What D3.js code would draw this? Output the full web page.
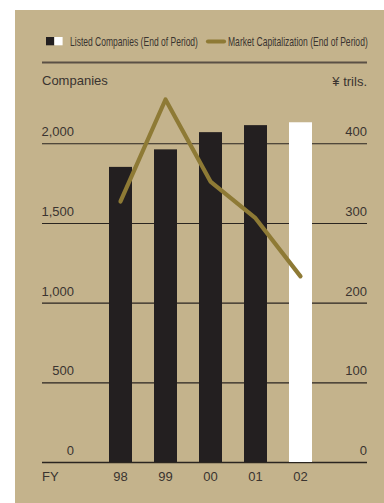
<!DOCTYPE html>
<html>
<head>
<meta charset="utf-8">
<script src="https://cdn.jsdelivr.net/npm/d3@7"></script>
<style>
  html, body { margin: 0; padding: 0; background: #ffffff; }
  svg { display: block; }
  text { font-family: "Liberation Sans", Arial, Helvetica, sans-serif; fill: #3a3430; }
</style>
</head>
<body>
<script>
// Fiscal years on the category axis
const years = ["98", "99", "00", "01", "02"];
// Listed companies at end of period (left axis)
const companies = [1852, 1962, 2070, 2114, 2132];
// Market capitalization at end of period, trillions of yen (right axis)
const marketCap = [327, 455, 352, 306, 233];
// Axis ticks
const leftTicks = [0, 500, 1000, 1500, 2000];
const rightTicks = [0, 100, 200, 300, 400];
// Legend entries
const legendLabels = ["Listed Companies (End of Period)", "Market Capitalization (End of Period)"];

const W = 384, H = 503;
const colors = {
  panel: "#c4b38c",
  bar: "#231f20",
  lastBar: "#ffffff",
  line: "#8e7a35",
  grid: "#2a2520",
  rule: "#5a5045"
};

const svg = d3.select("body").append("svg")
  .attr("width", W).attr("height", H);

// Background panel
svg.append("rect")
  .attr("x", 15).attr("y", 10)
  .attr("width", W - 15).attr("height", H - 10)
  .attr("fill", colors.panel);

const plotLeft = 42, plotRight = 367;
const baseY = 462, topY = 143.3;

const x = d3.scaleBand()
  .domain(years)
  .range([86.5, 334.5])
  .paddingInner(22 / 45)
  .paddingOuter(0.5);

const yLeft = d3.scaleLinear().domain([0, 2000]).range([baseY, topY]);
const yRight = d3.scaleLinear().domain([0, 400]).range([baseY, topY]);

// Condensed legend text: squeeze horizontally to the given width
function condensedText(g, label, tx, ty, width) {
  const t = g.append("text")
    .attr("font-size", 12)
    .text(label);
  const natural = t.node().getComputedTextLength();
  t.attr("transform", `translate(${tx},${ty}) scale(${width / natural},1)`);
  return t;
}

// Legend
const legend = svg.append("g");
legend.append("rect").attr("x", 46).attr("y", 37).attr("width", 8.3).attr("height", 8.3).attr("fill", colors.bar);
legend.append("rect").attr("x", 54.3).attr("y", 37).attr("width", 8.3).attr("height", 8.3).attr("fill", colors.lastBar);
condensedText(legend, legendLabels[0], 70, 46, 128);
legend.append("line")
  .attr("x1", 208).attr("x2", 224).attr("y1", 41.5).attr("y2", 41.5)
  .attr("stroke", colors.line).attr("stroke-width", 4.2).attr("stroke-linecap", "round");
condensedText(legend, legendLabels[1], 228, 46, 140);

// Rule under legend
svg.append("line")
  .attr("x1", plotLeft).attr("x2", plotRight)
  .attr("y1", 62.5).attr("y2", 62.5)
  .attr("stroke", colors.rule).attr("stroke-width", 2);

// Axis titles
svg.append("text").attr("x", plotLeft).attr("y", 85).attr("font-size", 13).text("Companies");
svg.append("text").attr("x", plotRight).attr("y", 85.5).attr("font-size", 13)
  .attr("text-anchor", "end").text("¥ trils.");

// Horizontal grid lines from the left scale
const leftAxis = d3.axisLeft(yLeft)
  .tickValues(leftTicks)
  .tickSize(-(plotRight - plotLeft))
  .tickFormat("");
const gridG = svg.append("g")
  .attr("transform", `translate(${plotLeft},0)`)
  .call(leftAxis);
gridG.select(".domain").remove();
gridG.selectAll(".tick line")
  .attr("stroke", colors.grid)
  .attr("stroke-width", d => d === 0 ? 1.6 : 1.1);

// Left tick labels
svg.append("g").selectAll("text")
  .data(leftTicks)
  .join("text")
  .attr("x", 74)
  .attr("y", d => yLeft(d) - 7)
  .attr("text-anchor", "end")
  .attr("font-size", 13)
  .text(d => d3.format(",")(d));

// Right tick labels
svg.append("g").selectAll("text")
  .data(rightTicks)
  .join("text")
  .attr("x", plotRight)
  .attr("y", d => yRight(d) - 7)
  .attr("text-anchor", "end")
  .attr("font-size", 13)
  .text(d => d);

// Bars
svg.append("g").selectAll("rect")
  .data(years)
  .join("rect")
  .attr("x", d => x(d))
  .attr("width", x.bandwidth())
  .attr("y", (d, i) => yLeft(companies[i]))
  .attr("height", (d, i) => baseY - yLeft(companies[i]))
  .attr("fill", (d, i) => i === years.length - 1 ? colors.lastBar : colors.bar);

// Market capitalization line
const line = d3.line()
  .x((d, i) => x(years[i]) + x.bandwidth() / 2)
  .y(d => yRight(d));
svg.append("path")
  .datum(marketCap)
  .attr("d", line)
  .attr("fill", "none")
  .attr("stroke", colors.line)
  .attr("stroke-width", 4.2)
  .attr("stroke-linecap", "round")
  .attr("stroke-linejoin", "round");

// Category labels
svg.append("text").attr("x", plotLeft).attr("y", 481).attr("font-size", 13).text("FY");
svg.append("g").selectAll("text")
  .data(years)
  .join("text")
  .attr("x", d => x(d) + x.bandwidth() / 2)
  .attr("y", 481)
  .attr("text-anchor", "middle")
  .attr("font-size", 13)
  .text(d => d);
</script>
</body>
</html>
